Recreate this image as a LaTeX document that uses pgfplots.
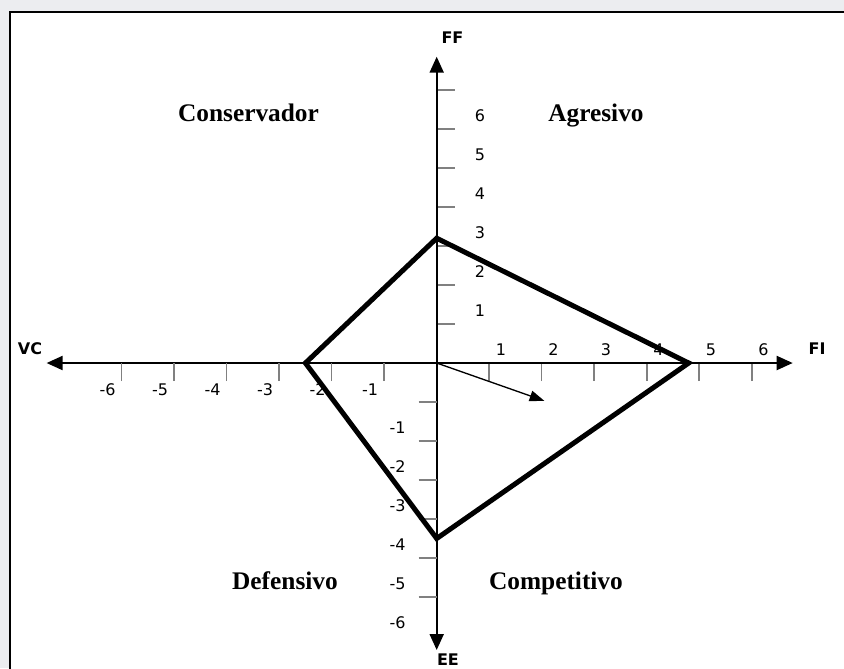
\documentclass[border=0pt]{standalone}
\usepackage{fontspec}
\setmainfont{DejaVu Sans}
\newfontfamily\quadfont{Liberation Serif}
\usepackage{pgfplots}
\pgfplotsset{compat=1.18}
\usetikzlibrary{arrows.meta}
\definecolor{pagegray}{RGB}{236,237,240}

\tikzset{
  quad/.style={anchor=base, font=\quadfont\bfseries\fontsize{19}{22}\selectfont},
  axname/.style={font=\bfseries\fontsize{12}{14}\selectfont},
}

\begin{document}
\begin{tikzpicture}[x=39.375pt, y=29.25pt]
% page and frame (1 unit = 52.5px across, 39px up)
\fill[pagegray] (-8.318,-7.821) rectangle (7.758,9.308);
\fill[white] (-8.128,-8.5) rectangle (8.5,8.992);
\draw[line width=1.5pt] (-8.128,-8.5) -- (-8.128,8.992) -- (8.5,8.992);

\begin{axis}[
  anchor=origin, at={(0,0)},
  x=39.375pt, y=29.25pt,
  xmin=-7.43, xmax=6.781, ymin=-7.359, ymax=7.854,
  axis lines=middle,
  axis line style={line width=1.5pt,
    {Triangle[length=12pt,width=10.5pt]}-{Triangle[length=12pt,width=10.5pt]}},
  clip=false,
  tick align=center,
  major tick length=13.5pt,
  tick label style={font=\fontsize{12}{14}\selectfont},
  xtick={1,2,3,4,5,6},
  xticklabels={1,2,3,4,5,6},
  xtick style={line width=1.2pt, yshift=-6.75pt},
  xticklabel style={anchor=center, xshift=8.8pt, yshift=17pt},
  extra x ticks={-6,-5,-4,-3,-2,-1},
  extra x tick labels={-6,-5,-4,-3,-2,-1},
  extra x tick style={
    every x tick label/.style={anchor=center, xshift=-10.5pt, yshift=-13pt}},
  ytick={1,2,3,4,5,6,7},
  yticklabels={1,2,3,4,5,6,{}},
  ytick style={line width=1.2pt, xshift=6.75pt},
  yticklabel style={anchor=center, xshift=39.2pt, yshift=10.2pt},
  extra y ticks={-1,-2,-3,-4,-5,-6},
  extra y tick labels={-1,-2,-3,-4,-5,-6},
  extra y tick style={
    every y tick/.style={line width=1.2pt, xshift=-6.75pt},
    every y tick label/.style={anchor=center, xshift=-22.5pt, yshift=-19pt}},
]
% strategic position polygon
\addplot[line width=3.75pt, line join=miter, mark=none]
  coordinates {(-2.5,0) (0,3.2) (4.8,0) (0,-4.5)} -- cycle;
% direction vector
\addplot[line width=1pt, mark=none, -{Triangle[length=11pt,width=8pt]}]
  coordinates {(0,0) (2.05,-0.97)};

\node[axname] at (axis cs:-7.747,0.359) {VC};
\node[axname] at (axis cs:7.244,0.359) {FI};
\node[axname] at (axis cs:0.301,8.333) {FF};
\node[axname] at (axis cs:0.215,-7.615) {EE};

\node[quad] at (axis cs:-3.585,6.18) {Conservador};
\node[quad] at (axis cs:3.034,6.18) {Agresivo};
\node[quad] at (axis cs:-2.89,-5.808) {Defensivo};
\node[quad] at (axis cs:2.272,-5.808) {Competitivo};
\end{axis}
\pgfresetboundingbox
\useasboundingbox (-8.318,-7.821) rectangle (7.758,9.308);
\end{tikzpicture}
\end{document}
